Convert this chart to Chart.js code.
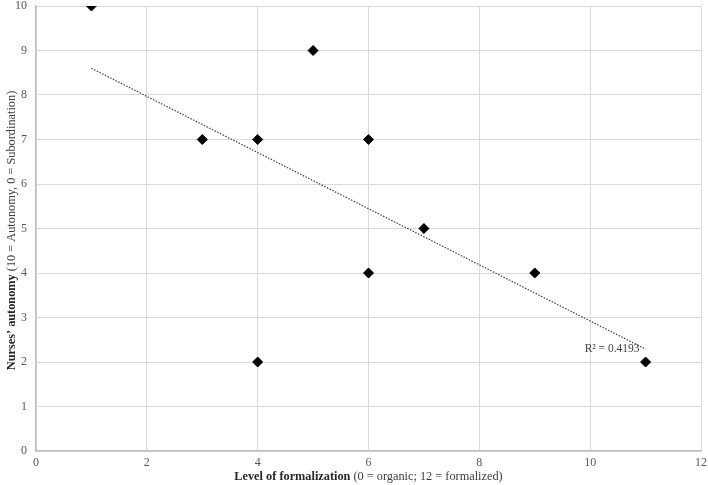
<!DOCTYPE html>
<html><head><meta charset="utf-8">
<script src="https://cdn.jsdelivr.net/npm/chart.js@4.4.1/dist/chart.umd.min.js"></script>
<style>html,body{margin:0;padding:0;background:#fff}#w{width:708px;height:485px}</style>
</head><body><div id="w"><canvas id="c"></canvas></div>
<script>
const formalization = [1, 3, 4, 4, 5, 6, 6, 7, 9, 11];
const autonomy = [10, 7, 7, 2, 9, 7, 4, 5, 4, 2];
const trendX = [1, 11];
const trendY = [8.6, 2.29];
const r2Label = "R² = 0.4193";
const r2Pos = [9.9, 2.3];
const xTitleBold = "Level of formalization";
const xTitleRest = " (0 = organic; 12 = formalized)";
const yTitleBold = "Nurses’ autonomy";
const yTitleRest = " (10 = Autonomy, 0 = Subordination)";

const FONT = "'Liberation Serif', 'DejaVu Serif', serif";

const titles = {
  id: 'titles',
  afterDraw(chart) {
    const ctx = chart.ctx, x = chart.scales.x, y = chart.scales.y, a = chart.chartArea;
    ctx.save();
    ctx.fillStyle = '#404040';
    ctx.textBaseline = 'middle';
    ctx.textAlign = 'left';
    ctx.font = '11.5px ' + FONT;
    ctx.fillText(r2Label, x.getPixelForValue(r2Pos[0]), y.getPixelForValue(r2Pos[1]));
    const bF = 'bold 12.3px ' + FONT, nF = '12.3px ' + FONT;
    ctx.font = bF; const w1 = ctx.measureText(xTitleBold).width;
    ctx.font = nF; const w2 = ctx.measureText(xTitleRest).width;
    let sx = (a.left + a.right) / 2 - (w1 + w2) / 2;
    const ty = 477;
    ctx.fillStyle = '#262626';
    ctx.font = bF; ctx.fillText(xTitleBold, sx, ty);
    ctx.fillStyle = '#404040';
    ctx.font = nF; ctx.fillText(xTitleRest, sx + w1, ty);
    ctx.translate(12, (a.top + a.bottom) / 2 + 2);
    ctx.rotate(-Math.PI / 2);
    ctx.font = bF; const v1 = ctx.measureText(yTitleBold).width;
    ctx.font = nF; const v2 = ctx.measureText(yTitleRest).width;
    sx = -(v1 + v2) / 2;
    ctx.fillStyle = '#262626';
    ctx.font = bF; ctx.fillText(yTitleBold, sx, 0);
    ctx.fillStyle = '#404040';
    ctx.font = nF; ctx.fillText(yTitleRest, sx + v1, 0);
    ctx.restore();
  }
};

new Chart(document.getElementById('c'), {
  type: 'scatter',
  data: {
    datasets: [
      {
        type: 'line',
        data: trendX.map((v, i) => ({x: v, y: trendY[i]})),
        borderColor: '#404040',
        borderWidth: 1.2,
        borderDash: [1.5, 1.5],
        pointRadius: 0,
        fill: false,
        order: 2
      },
      {
        data: formalization.map((v, i) => ({x: v, y: autonomy[i]})),
        pointStyle: 'rectRot',
        pointRadius: 5,
        backgroundColor: '#000',
        borderColor: '#000',
        borderWidth: 1,
        order: 1
      }
    ]
  },
  options: {
    responsive: true,
    maintainAspectRatio: false,
    animation: false,
    layout: {padding: {top: 5, right: 7, left: 0, bottom: 0}},
    plugins: {legend: {display: false}, tooltip: {enabled: false}},
    scales: {
      x: {
        type: 'linear', min: 0, max: 12,
        afterFit: s => { s.height = 34; s.paddingLeft = 0; s.paddingRight = 0; },
        ticks: {stepSize: 2, color: '#595959', font: {family: FONT, size: 12}, padding: 5, maxRotation: 0},
        grid: {color: '#d9d9d9', drawTicks: false, lineWidth: 1},
        border: {color: '#bfbfbf', width: 1.5}
      },
      y: {
        type: 'linear', min: 0, max: 10,
        afterFit: s => { s.width = 36; s.paddingTop = 0; s.paddingBottom = 0; },
        ticks: {stepSize: 1, color: '#595959', font: {family: FONT, size: 12}, padding: 9},
        grid: {color: '#d9d9d9', drawTicks: false, lineWidth: 1},
        border: {color: '#bfbfbf', width: 1.5}
      }
    }
  },
  plugins: [titles]
});
</script></body></html>
